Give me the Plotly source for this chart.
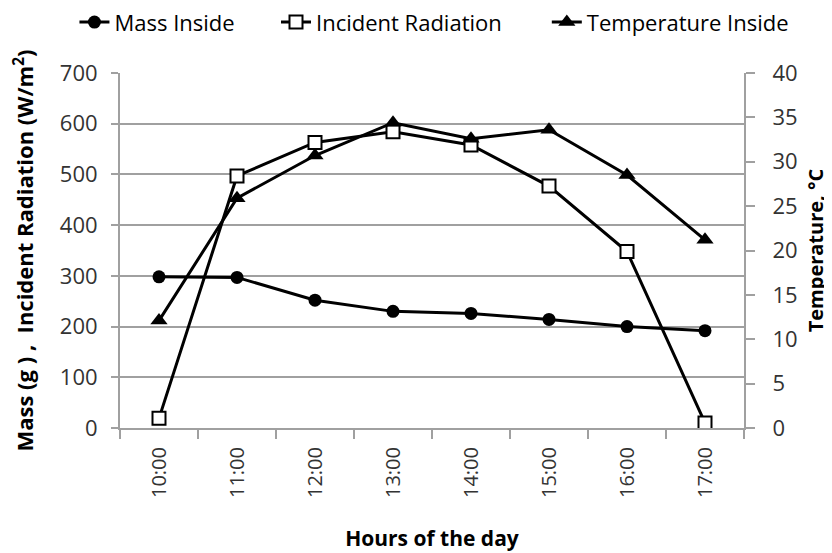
import plotly.graph_objects as go

hours = ["10:00", "11:00", "12:00", "13:00", "14:00", "15:00", "16:00", "17:00"]
mass_inside = [298, 297, 252, 230, 226, 214, 200, 192]
incident_radiation = [19, 497, 563, 584, 558, 477, 348, 10]
temperature_inside = [12.1, 25.9, 30.7, 34.4, 32.6, 33.6, 28.5, 21.2]

FONT = "Open Sans"
GRID = "#a0a0a0"
TICKC = "#333333"

fig = go.Figure()
fig.add_trace(go.Scatter(
    x=hours, y=mass_inside, name="Mass Inside", mode="lines+markers",
    legend="legend",
    line=dict(color="black", width=3),
    marker=dict(symbol="circle", size=13, color="black"),
))
fig.add_trace(go.Scatter(
    x=hours, y=incident_radiation, name="Incident Radiation", mode="lines+markers",
    legend="legend2",
    line=dict(color="black", width=3),
    marker=dict(symbol="square", size=13, color="white", line=dict(color="black", width=2)),
))
fig.add_trace(go.Scatter(
    x=hours, y=temperature_inside, name="Temperature Inside", mode="lines+markers",
    yaxis="y2", legend="legend3",
    line=dict(color="black", width=3),
    marker=dict(symbol="triangle-up", size=15, color="black"),
))

leg = dict(orientation="h", xanchor="left", y=1.143, yanchor="middle",
           font=dict(family=FONT, size=22, color="black"), bgcolor="rgba(0,0,0,0)")

fig.update_layout(
    width=824, height=545,
    margin=dict(l=112, r=88, t=65, b=125, autoexpand=False),
    paper_bgcolor="white", plot_bgcolor="white",
    font=dict(family=FONT, size=20, color=TICKC),
    showlegend=True,
    legend=dict(leg, x=-0.073),
    legend2=dict(leg, x=0.250),
    legend3=dict(leg, x=0.684),
    xaxis=dict(
        type="category", range=[-0.5, 7.5],
        tickangle=-90, ticks="outside", ticklen=9, tickcolor=GRID, tickwidth=2,
        tickson="boundaries", ticklabelstandoff=9,
        showline=True, linecolor=GRID, linewidth=2, showgrid=False,
        tickfont=dict(size=20, color=TICKC),
        title=dict(text="<b>Hours of the day</b>", font=dict(size=21, color="black"), standoff=34),
    ),
    yaxis=dict(
        range=[0, 700], dtick=100, showgrid=True, gridcolor=GRID, gridwidth=2,
        showline=True, linecolor=GRID, linewidth=2, ticks="outside", ticklen=7, tickcolor=GRID,
        tickwidth=2, ticklabelstandoff=9,
        zeroline=False, tickfont=dict(size=22, color=TICKC),
        title=dict(text="<b>Mass (g ) ,  Incident Radiation (W/m<sup>2</sup>)</b>",
                   font=dict(size=22, color="black"), standoff=20),
    ),
    yaxis2=dict(
        range=[0, 40], dtick=5, overlaying="y", side="right", showgrid=False,
        showline=True, linecolor=GRID, linewidth=2, ticks="outside", ticklen=9, tickcolor=GRID,
        tickwidth=2, ticklabelstandoff=13,
        zeroline=False, tickfont=dict(size=22, color=TICKC),
        title=dict(text="<b>Temperature, °C</b>", font=dict(size=20, color="black"), standoff=12),
    ),
    yaxis3=dict(
        range=[0, 700], dtick=100, overlaying="y", side="left", showgrid=False,
        showline=False, ticks="inside", ticklen=7, tickcolor=GRID, tickwidth=2,
        showticklabels=False, zeroline=False,
    ),
)

fig.write_html("out.html")
